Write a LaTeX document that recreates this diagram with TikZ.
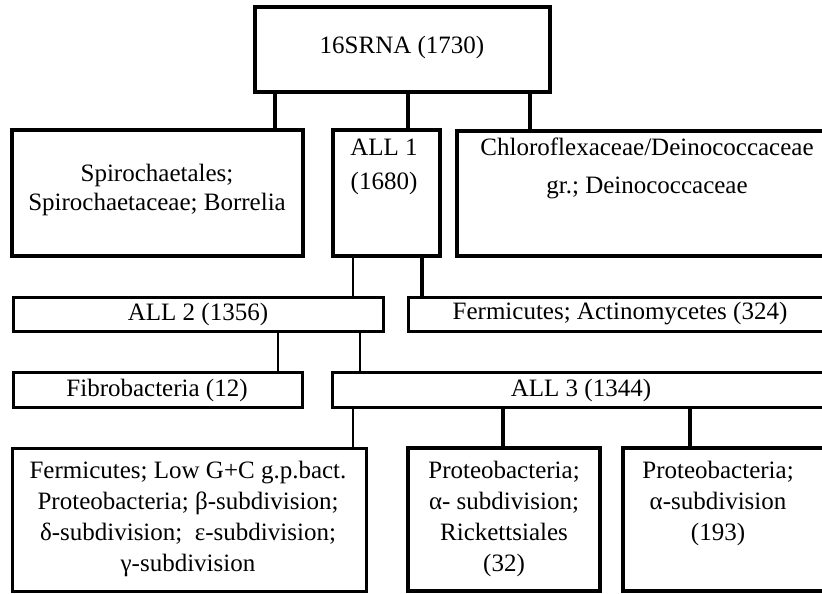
\documentclass[tikz,border=0pt]{standalone}
\usepackage{fontspec}
\setmainfont{Liberation Serif}
\usetikzlibrary{fit}
\begin{document}
\begin{tikzpicture}[x=0.5pt,y=-0.5pt,
  box/.style={draw, line width=1.8pt, inner sep=0pt},
  thinbox/.style={draw, line width=1.5pt, inner sep=0pt},
  conn/.style={line width=1.8pt},
  thinconn/.style={line width=1.1pt},
  txt/.style={inner sep=0pt, align=center, font=\fontsize{12.5}{15}\selectfont}]
\useasboundingbox (0,0) rectangle (822,593);
\clip (0,0) rectangle (822,593);
% boxes
\node[box, fit={(255,7)(550,92)}] (root) {};
\node[box, fit={(12,130)(303,256)}] (spiro) {};
\node[box, fit={(333,130)(440,256)}] (all1) {};
\node[box, fit={(457,131)(835,256)}] (chloro) {};
\node[thinbox, fit={(13,297)(383,331)}] (all2) {};
\node[thinbox, fit={(408,297)(832,331)}] (ferm) {};
\node[thinbox, fit={(13,372)(302,407)}] (fibro) {};
\node[thinbox, fit={(332,372)(832,407)}] (all3) {};
\node[thinbox, fit={(12,448)(366,591)}] (low) {};
\node[box, fit={(408,448)(600,591)}] (rick) {};
\node[box, fit={(623,448)(835,591)}] (alpha) {};
% texts
\node[txt] (troot) at (402,47) {16SRNA (1730)};
\node[txt, font=\fontsize{12.5}{14.5}\selectfont] (tspiro) at (157,190) {Spirochaetales;\\Spirochaetaceae; Borrelia};
\node[txt, font=\fontsize{12.5}{17}\selectfont] (tall1) at (384,167) {ALL 1\\(1680)};
\node[txt, font=\fontsize{12.5}{19}\selectfont] (tchloro) at (647,168) {Chloroflexaceae/Deinococcaceae\\gr.; Deinococcaceae};
\node[txt] (tall2) at (198,314) {ALL 2 (1356)};
\node[txt] (tferm) at (620,314) {Fermicutes; Actinomycetes (324)};
\node[txt] (tfibro) at (157,390) {Fibrobacteria (12)};
\node[txt] (tall3) at (581,390) {ALL 3 (1344)};
\node[txt, anchor=north, font=\fontsize{12.5}{15.5}\selectfont] (tlow) at (188,461) {Fermicutes; Low G+C g.p.bact.\\Proteobacteria; β-subdivision;\\δ-subdivision;\ \ ε-subdivision;\\γ-subdivision};
\node[txt, anchor=north, font=\fontsize{12.5}{15.5}\selectfont] (trick) at (504,461) {Proteobacteria;\\α- subdivision;\\Rickettsiales\\(32)};
\node[txt, anchor=north, font=\fontsize{12.5}{15.5}\selectfont] (talpha) at (718,461) {Proteobacteria;\\α-subdivision\\(193)};
% connector x positions
\coordinate (xa) at (275,0);
\coordinate (xb) at (408,0);
\coordinate (xc) at (530,0);
\coordinate (xd) at (353,0);
\coordinate (xe) at (422,0);
\coordinate (xf) at (278,0);
\coordinate (xg) at (360,0);
\coordinate (xh) at (503,0);
\coordinate (xi) at (690,0);
% connectors
\draw[conn] (root.south -| xa) -- (spiro.north -| xa);
\draw[conn] (root.south -| xb) -- (all1.north -| xb);
\draw[conn] (root.south -| xc) -- (chloro.north -| xc);
\draw[thinconn] (all1.south -| xd) -- (all2.north -| xd);
\draw[conn] (all1.south -| xe) -- (ferm.north -| xe);
\draw[thinconn] (all2.south -| xf) -- (fibro.north -| xf);
\draw[thinconn] (all2.south -| xg) -- (all3.north -| xg);
\draw[thinconn] (all3.south -| xd) -- (low.north -| xd);
\draw[conn] (all3.south -| xh) -- (rick.north -| xh);
\draw[conn] (all3.south -| xi) -- (alpha.north -| xi);
\end{tikzpicture}
\end{document}
